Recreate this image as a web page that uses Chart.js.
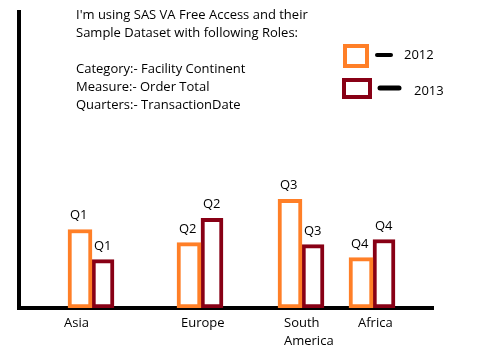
<!DOCTYPE html>
<html>
<head>
<meta charset="utf-8">
<title>Order Total by Facility Continent</title>
<script src="https://cdn.jsdelivr.net/npm/chart.js@4.4.0/dist/chart.umd.min.js"></script>
<style>
    html, body { margin: 0; padding: 0; background: #fff; }
    #wrap { width: 496px; height: 352px; }
</style>
</head>
<body>
<div id="wrap"><canvas id="chart" width="496" height="352"></canvas></div>
<script>
"use strict";

// данные
const categories = ['Asia', 'Europe', 'South America', 'Africa'];
const quarterLabels = ['Q1', 'Q2', 'Q3', 'Q4'];
const seriesNames = ['2012', '2013'];
const orderTotal2012 = [78, 65, 108, 50];
const orderTotal2013 = [48, 89, 63, 68];
const noteLines = [
    "I'm using SAS VA Free Access and their",
    'Sample Dataset with following Roles:',
    '',
    'Category:- Facility Continent',
    'Measure:- Order Total',
    'Quarters:- TransactionDate'
];

// раскладка (не данные)
const groupX = [73, 182, 283, 354];
const labelX = [45, 162, 265, 339];
const colors = ['#ff7f27', '#880015'];
const FONT_FAMILY = "'Open Sans', 'DejaVu Sans', sans-serif";
const FONT = '13px ' + FONT_FAMILY;

function toPoints(values) {
    return values.map((v, i) => ({ x: groupX[i], y: v }));
}

// подписи Q1..Q4 над столбцами
const quarterPlugin = {
    id: 'quarterLabels',
    afterDatasetsDraw(chart) {
        const ctx = chart.ctx;
        ctx.save();
        ctx.font = FONT;
        ctx.fillStyle = '#000';
        ctx.textAlign = 'left';
        ctx.textBaseline = 'alphabetic';
        chart.data.datasets.forEach((ds, di) => {
            chart.getDatasetMeta(di).data.forEach((bar, i) => {
                const p = bar.getProps(['x', 'y', 'width'], true);
                ctx.fillText(quarterLabels[i], p.x - p.width / 2 + 2, p.y - 10);
            });
        });
        ctx.restore();
    }
};

// текст с описанием и легенда
const notesPlugin = {
    id: 'notes',
    afterDraw(chart) {
        const ctx = chart.ctx;
        ctx.save();
        ctx.font = FONT;
        ctx.fillStyle = '#000';
        ctx.textBaseline = 'alphabetic';
        noteLines.forEach((line, i) => {
            if (line) ctx.fillText(line, 76, 19 + i * 18);
        });

        const ds = chart.data.datasets;
        // 2012
        ctx.lineWidth = 4;
        ctx.strokeStyle = ds[0].borderColor;
        ctx.strokeRect(345, 46, 22, 20);
        // 2013
        ctx.strokeStyle = ds[1].borderColor;
        ctx.strokeRect(344, 80, 26, 17);

        ctx.strokeStyle = '#000';
        ctx.lineCap = 'round';
        ctx.beginPath();
        ctx.moveTo(377, 55);
        ctx.lineTo(391, 55);
        ctx.stroke();
        ctx.lineWidth = 5;
        ctx.beginPath();
        ctx.moveTo(380, 88);
        ctx.lineTo(399, 88);
        ctx.stroke();

        ctx.fillText(ds[0].label, 404, 59);
        ctx.fillText(ds[1].label, 414, 95);
        ctx.restore();
    }
};

const ctx = document.getElementById('chart').getContext('2d');

new Chart(ctx, {
    type: 'bar',
    data: {
        datasets: [{
            label: seriesNames[0],
            data: toPoints(orderTotal2012),
            backgroundColor: '#ffffff',
            borderColor: colors[0],
            borderWidth: 4,
            borderSkipped: false,
            barThickness: 24
        }, {
            label: seriesNames[1],
            data: toPoints(orderTotal2013),
            backgroundColor: '#ffffff',
            borderColor: colors[1],
            borderWidth: 4,
            borderSkipped: false,
            barThickness: 22
        }]
    },
    options: {
        responsive: false,
        animation: false,
        devicePixelRatio: 1,
        layout: {
            padding: { left: 19, right: 63, top: 12, bottom: -4 }
        },
        plugins: {
            legend: { display: false },
            tooltip: { enabled: false }
        },
        scales: {
            x: {
                type: 'linear',
                min: 0,
                max: 414,
                offset: false,
                grid: { display: false, drawTicks: false, tickLength: 0 },
                border: { display: true, color: '#000', width: 4 },
                afterBuildTicks(scale) {
                    scale.ticks = labelX.map(v => ({ value: v }));
                },
                ticks: {
                    autoSkip: false,
                    maxRotation: 0,
                    align: 'start',
                    padding: 6,
                    color: '#000',
                    font: { family: FONT_FAMILY, size: 13, lineHeight: '18px' },
                    callback: (value, index) => categories[index].split(' ')
                }
            },
            y: {
                min: 0,
                max: 294,
                grid: { display: false, drawTicks: false, tickLength: 0 },
                border: { display: true, color: '#000', width: 4 },
                ticks: { display: false }
            }
        }
    },
    plugins: [quarterPlugin, notesPlugin]
});
</script>
</body>
</html>
